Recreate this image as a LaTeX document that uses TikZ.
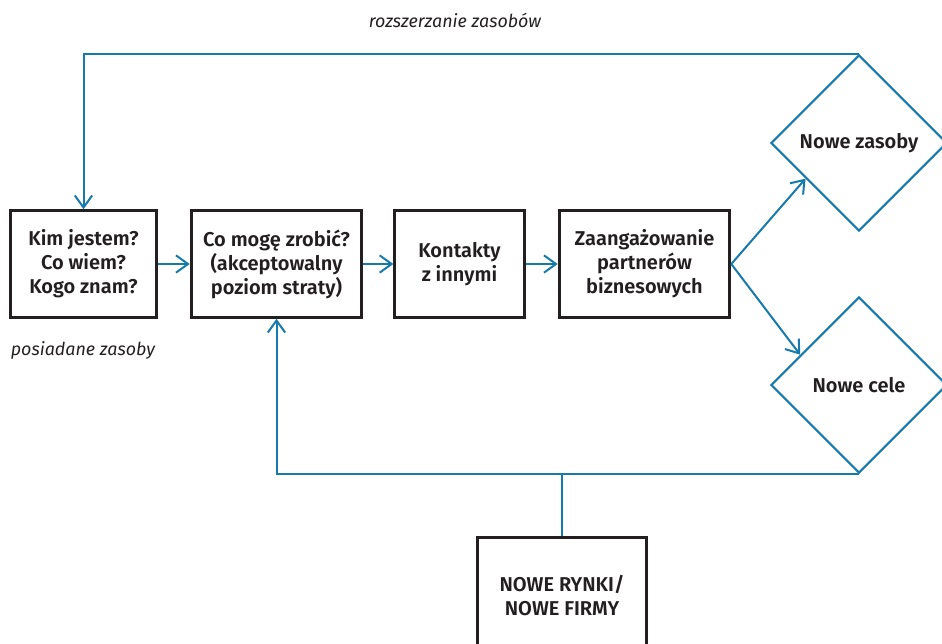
\documentclass[tikz,border=0pt]{standalone}
\usepackage{fontspec}
\setmainfont{Fira Sans}[BoldFont={Fira Sans SemiBold}]
\usetikzlibrary{arrows.meta,shapes.geometric,calc}
\definecolor{flowblue}{RGB}{22,122,172}
\definecolor{ink}{RGB}{35,31,32}
\tikzset{
  stepbox/.style={draw=ink, line width=2.2pt, fill=white, text=ink,
    font=\bfseries\fontsize{15}{18}\selectfont, align=center,
    inner sep=0pt},
  choice/.style={diamond, draw=flowblue, line width=1.6pt, text=ink,
    font=\bfseries\fontsize{15}{18}\selectfont, align=center,
    inner sep=0pt, aspect=1,
    minimum width=132pt, minimum height=132pt},
  flow/.style={draw=flowblue, line width=1.5pt,
    -{Straight Barb[length=9pt,width=13pt,line width=1.5pt]}},
  link/.style={draw=flowblue, line width=1.5pt},
  note/.style={text=ink, font=\itshape\fontsize{13.4}{16}\selectfont}
}
\begin{document}
\begin{tikzpicture}[x=0.75pt,y=-0.75pt]
  \useasboundingbox (0,0) rectangle (942,643);
  \clip (0,0) rectangle (942,643);

  % process boxes
  \node[stepbox, minimum width=110pt, minimum height=80pt] (b1) at (83.5,264)
    {Kim jestem?\\Co wiem?\\Kogo znam?};
  \node[stepbox, minimum width=128pt, minimum height=80pt] (b2) at (276.5,264)
    {Co mogę zrobić?\\(akceptowalny\\poziom straty)};
  \node[stepbox, minimum width=97pt, minimum height=80pt] (b3) at (459.5,264)
    {Kontakty\\z innymi};
  \node[stepbox, minimum width=128pt, minimum height=80pt] (b4) at (644.5,264)
    {Zaangażowanie\\partnerów\\biznesowych};
  \node[stepbox, minimum width=127pt, minimum height=88pt] (b5) at (562,596)
    {NOWE RYNKI/\\NOWE FIRMY};

  % outcomes
  \node[choice] (d1) at (859,143) {Nowe zasoby};
  \node[choice] (d2) at (859,385) {Nowe cele};

  % main chain
  \draw[flow] (b1.east) -- (b2.west);
  \draw[flow] (b2.east) -- (b3.west);
  \draw[flow] (b3.east) -- (b4.west);
  \coordinate (t1) at ($(d1.west)!0.4!(d1.south)$);
  \coordinate (t2) at ($(d2.west)!0.34!(d2.north)$);
  \draw[flow] (b4.east) -- (t1);
  \draw[flow] (b4.east) -- (t2);

  % feedback loops
  \draw[flow] (d1.north) -- (d1.north -| b1.north) -- (b1.north);
  \draw[flow] (d2.south) -- (d2.south -| b2.south) -- (b2.south);
  \draw[link] (b5.north) -- (b5.north |- d2.south);

  % labels
  \node[note] (lblTop) at (455,20) {rozszerzanie zasobów};
  \node[note] (lblLeft) at (83,350) {posiadane zasoby};
\end{tikzpicture}
\end{document}
